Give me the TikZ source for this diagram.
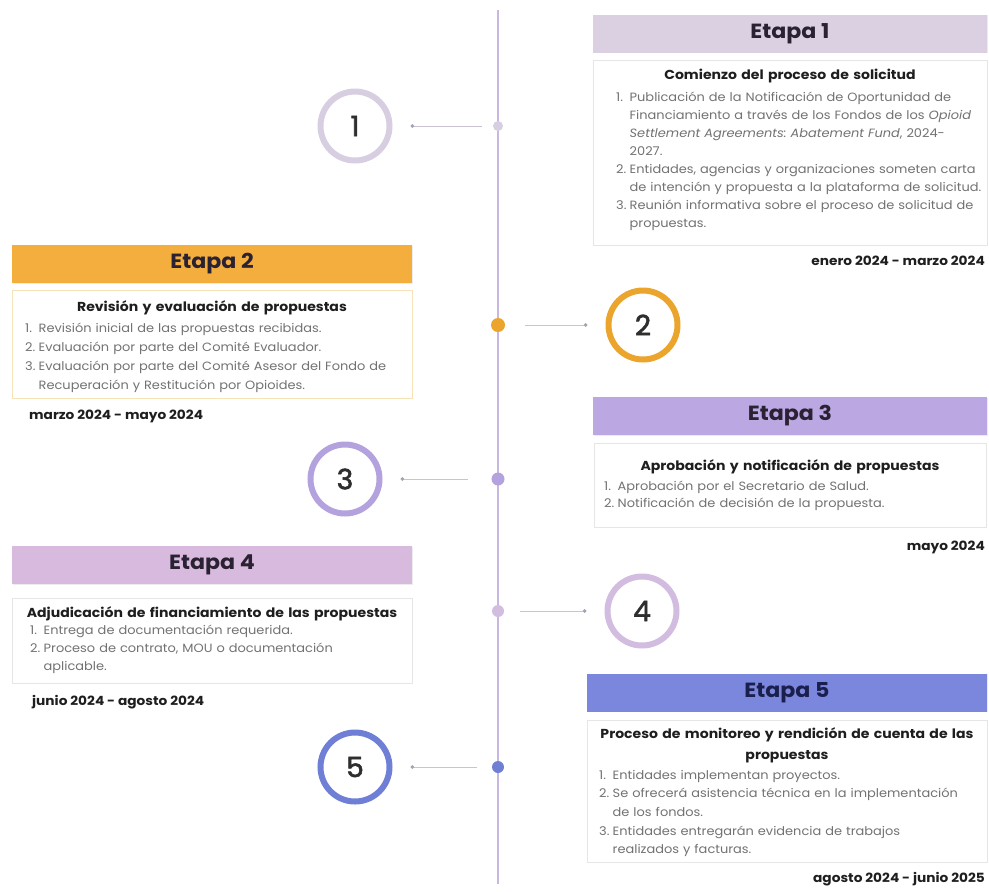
\documentclass[tikz,border=0pt]{standalone}
\usepackage{fontspec}
\setmainfont[FakeStretch=1.08]{Poppins}
\newfontfamily\numfont[FakeBold=2]{Poppins}
\usetikzlibrary{arrows.meta,shadows}
\frenchspacing
\definecolor{tlcol}{HTML}{C9B7E0}
\definecolor{hA}{HTML}{DAD0E2}
\definecolor{hB}{HTML}{F3AE3D}
\definecolor{hC}{HTML}{BBA8E2}
\definecolor{hD}{HTML}{D8BADE}
\definecolor{hE}{HTML}{7B87DD}
\definecolor{rA}{HTML}{D8CEE1}
\definecolor{rB}{HTML}{EBA52C}
\definecolor{rC}{HTML}{B4A2DE}
\definecolor{rD}{HTML}{D2BDE0}
\definecolor{rE}{HTML}{6F7FD6}
\definecolor{hdrtxt}{HTML}{2A2233}
\definecolor{hdrtxtE}{HTML}{1A1F4D}
\definecolor{ttltxt}{HTML}{1E1E1E}
\definecolor{bodytxt}{HTML}{727272}
\definecolor{boxln}{HTML}{E6E6E6}
\definecolor{boxlnB}{HTML}{F6E4B8}
\definecolor{conncol}{HTML}{CBC3D3}
\definecolor{conntip}{HTML}{A9A1B1}
\definecolor{numtxt}{HTML}{2E2E2E}
\newcommand\lsz[1]{\fontsize{12}{#1}\selectfont}
\newcommand\itm[1]{\makebox[13.5pt][l]{#1}}
\newcommand\cnt{\hspace*{13.5pt}}
\begin{document}
\begin{tikzpicture}[x=1pt,y=-1pt,
  hdr/.style={rectangle, minimum height=38pt, inner sep=0pt,
    font=\fontsize{20.5}{24}\selectfont\bfseries, text=hdrtxt,
    drop shadow={opacity=0.15,shadow xshift=0.6pt,shadow yshift=-0.8pt}},
  bodybox/.style={rectangle, draw=boxln, line width=0.7pt, fill=white, inner sep=0pt,
    drop shadow={opacity=0.07,shadow xshift=0.6pt,shadow yshift=-0.8pt}},
  ttl/.style={font=\fontsize{13}{20.5}\selectfont\bfseries, text=ttltxt, inner sep=0pt,
    anchor=base, align=center, text width=396pt},
  lst/.style={text=bodytxt, inner sep=0pt, anchor=base west, align=left, text width=390pt},
  datelbl/.style={font=\fontsize{12.7}{14}\selectfont\bfseries, text=ttltxt, inner sep=0pt},
  numc/.style={circle, line width=6pt, minimum size=69pt, inner sep=0pt, fill=white,
    font=\numfont\fontsize{28}{30}\selectfont, text=numtxt},
  tdot/.style={circle, inner sep=0pt},
  conn/.style={draw=conncol, line width=1pt, -{Circle[length=3.6pt,color=conntip]},
    shorten <=#1, shorten >=18pt},
  conn/.default=20pt]

\useasboundingbox (0,0) rectangle (989,892);

% timeline
\coordinate (ttop) at (498,10);
\coordinate (tbot) at (498,884);
\draw[tlcol, line width=2.6pt] (ttop) -- (tbot);

% timeline dots
\node[tdot, fill=rA, minimum size=10pt] (t1) at (498,126) {};
\node[tdot, fill=rB, minimum size=14pt] (t2) at (498,325) {};
\node[tdot, fill=rC, minimum size=13pt] (t3) at (498,479) {};
\node[tdot, fill=rD, minimum size=12pt] (t4) at (498,611) {};
\node[tdot, fill=rE, minimum size=12pt] (t5) at (498,767) {};

% numbered circles
\node[numc, draw=rA] (c1) at (355,126) {1};
\node[numc, draw=rB] (c2) at (643,325) {2};
\node[numc, draw=rC] (c3) at (345,479) {3};
\node[numc, draw=rD] (c4) at (642,611) {4};
\node[numc, draw=rE] (c5) at (355,767) {5};

% connectors
\draw[conn=16pt] (t1.center) -- (c1);
\draw[conn=27pt] (t2.center) -- (c2);
\draw[conn=30pt] (t3.center) -- (c3);
\draw[conn=22pt] (t4.center) -- (c4);
\draw[conn=21pt] (t5.center) -- (c5);

% ---------- Etapa 1 ----------
\node[hdr, fill=hA, minimum width=394pt] (h1) at (790,33.5) {Etapa 1};
\node[bodybox, minimum width=394pt, minimum height=185pt] (b1) at (790,152.5) {};
\node[ttl] (s1) at (790,79.5) {Comienzo del proceso de solicitud};
\node[lst, font=\lsz{18}] (l1) at (616,101) {\itm{1.}Publicación de la Notificación de Oportunidad de\\
\cnt Financiamiento a través de los Fondos de los \textit{Opioid}\\
\cnt\textit{Settlement Agreements: Abatement Fund}, 2024-\\
\cnt 2027.\\
\itm{2.}Entidades, agencias y organizaciones someten carta\\
\cnt de intención y propuesta a la plataforma de solicitud.\\
\itm{3.}Reunión informativa sobre el proceso de solicitud de\\
\cnt propuestas.};
\node[datelbl, anchor=east] (d1) at (985,261) {enero 2024 - marzo 2024};

% ---------- Etapa 2 ----------
\node[hdr, fill=hB, minimum width=400pt] (h2) at (212,264) {Etapa 2};
\node[bodybox, draw=boxlnB, minimum width=400pt, minimum height=108pt] (b2) at (212,344) {};
\node[ttl] (s2) at (212,311.5) {Revisión y evaluación de propuestas};
\node[lst, font=\lsz{19}] (l2) at (25,332) {\itm{1.}Revisión inicial de las propuestas recibidas.\\
\itm{2.}Evaluación por parte del Comité Evaluador.\\
\itm{3.}Evaluación por parte del Comité Asesor del Fondo de\\
\cnt Recuperación y Restitución por Opioides.};
\node[datelbl, anchor=west] (d2) at (29,416) {marzo 2024 - mayo 2024};

% ---------- Etapa 3 ----------
\node[hdr, fill=hC, minimum width=394pt] (h3) at (790,416) {Etapa 3};
\node[bodybox, minimum width=392pt, minimum height=84pt] (b3) at (790,485) {};
\node[ttl] (s3) at (790,470.5) {Aprobación y notificación de propuestas};
\node[lst, font=\lsz{17.5}] (l3) at (604,490) {\itm{1.}Aprobación por el Secretario de Salud.\\
\itm{2.}Notificación de decisión de la propuesta.};
\node[datelbl, anchor=east] (d3) at (985,547) {mayo 2024};

% ---------- Etapa 4 ----------
\node[hdr, fill=hD, minimum width=400pt] (h4) at (212,565) {Etapa 4};
\node[bodybox, minimum width=400pt, minimum height=85pt] (b4) at (212,641) {};
\node[ttl] (s4) at (212,617.5) {Adjudicación de financiamiento de las propuestas};
\node[lst, font=\lsz{18}] (l4) at (30,634) {\itm{1.}Entrega de documentación requerida.\\
\itm{2.}Proceso de contrato, MOU o documentación\\
\cnt aplicable.};
\node[datelbl, anchor=west] (d4) at (32,702) {junio 2024 - agosto 2024};

% ---------- Etapa 5 ----------
\node[hdr, fill=hE, text=hdrtxtE, minimum width=400pt] (h5) at (787,692.5) {Etapa 5};
\node[bodybox, minimum width=400pt, minimum height=142pt] (b5) at (787,791) {};
\node[ttl] (s5) at (787,738.5) {Proceso de monitoreo y rendición de cuenta de las\\propuestas};
\node[lst, font=\lsz{18.7}] (l5) at (599,779) {\itm{1.}Entidades implementan proyectos.\\
\itm{2.}Se ofrecerá asistencia técnica en la implementación\\
\cnt de los fondos.\\
\itm{3.}Entidades entregarán evidencia de trabajos\\
\cnt realizados y facturas.};
\node[datelbl, anchor=east] (d5) at (985,879) {agosto 2024 - junio 2025};

\end{tikzpicture}
\end{document}
